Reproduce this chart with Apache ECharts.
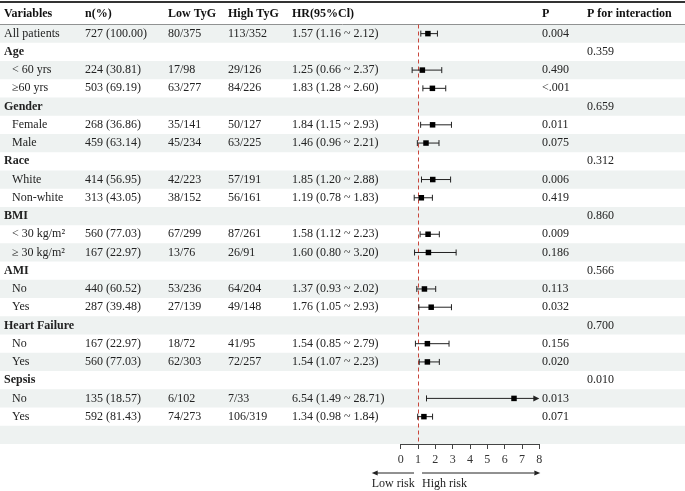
<!DOCTYPE html>
<html>
<head>
<meta charset="utf-8">
<script src="https://cdn.jsdelivr.net/npm/echarts@6/dist/echarts.min.js"></script>
<style>html,body{margin:0;padding:0;background:#fff}#c{width:685px;height:491px}</style>
</head>
<body>
<div id="c"></div>
<script>
// ---------- data ----------
var headers = ['Variables','n(%)','Low TyG','High TyG','HR(95%Cl)','P','P for interaction'];
var labels = ['All patients','Age','< 60 yrs','\u226560 yrs','Gender','Female','Male','Race','White','Non-white','BMI','< 30 kg/m\u00B2','\u2265 30 kg/m\u00B2','AMI','No','Yes','Heart Failure','No','Yes','Sepsis','No','Yes',''];
var isGroup = [0,1,0,0,1,0,0,1,0,0,1,0,0,1,0,0,1,0,0,1,0,0,0];
var nPct = ['727 (100.00)','','224 (30.81)','503 (69.19)','','268 (36.86)','459 (63.14)','','414 (56.95)','313 (43.05)','','560 (77.03)','167 (22.97)','','440 (60.52)','287 (39.48)','','167 (22.97)','560 (77.03)','','135 (18.57)','592 (81.43)',''];
var lowTyG = ['80/375','','17/98','63/277','','35/141','45/234','','42/223','38/152','','67/299','13/76','','53/236','27/139','','18/72','62/303','','6/102','74/273',''];
var highTyG = ['113/352','','29/126','84/226','','50/127','63/225','','57/191','56/161','','87/261','26/91','','64/204','49/148','','41/95','72/257','','7/33','106/319',''];
var hr = [1.57,null,1.25,1.83,null,1.84,1.46,null,1.85,1.19,null,1.58,1.60,null,1.37,1.76,null,1.54,1.54,null,6.54,1.34,null];
var lo = [1.16,null,0.66,1.28,null,1.15,0.96,null,1.20,0.78,null,1.12,0.80,null,0.93,1.05,null,0.85,1.07,null,1.49,0.98,null];
var hi = [2.12,null,2.37,2.60,null,2.93,2.21,null,2.88,1.83,null,2.23,3.20,null,2.02,2.93,null,2.79,2.23,null,28.71,1.84,null];
var pVal = ['0.004','','0.490','<.001','','0.011','0.075','','0.006','0.419','','0.009','0.186','','0.113','0.032','','0.156','0.020','','0.013','0.071',''];
var pInt = ['','0.359','','','0.659','','','0.312','','','0.860','','','0.566','','','0.700','','','0.010','','',''];
var xTicks = [0,1,2,3,4,5,6,7,8];
var refLine = 1;

// ---------- layout ----------
var W = 685;
var TOP = 24.5, BOTTOM = 444;
var FX0 = 400.7, FX1 = 539.3;
var COL = {v:4, sub:12, n:85, low:168, high:228, hr:292, p:542, pint:587};
var FONT = '"Liberation Serif","Times New Roman",serif';
var TXT = '#222';

function hrText(i){
  if (hr[i] == null) return '';
  return hr[i].toFixed(2) + ' (' + lo[i].toFixed(2) + ' ~ ' + hi[i].toFixed(2) + ')';
}
function txt(s, x, y, bold){
  return {type:'text', style:{text:s, x:x, y:y, fill:TXT, fontSize:12, fontFamily:FONT, fontWeight: bold?'bold':'normal', verticalAlign:'middle', align:'left'}};
}

var rows = labels.map(function(_, i){ return [i]; });
var forestData = [];
hr.forEach(function(v, i){ if (v != null) forestData.push([i, v, lo[i], hi[i]]); });

var chart = echarts.init(document.getElementById('c'), null, {renderer:'canvas'});

var option = {
  animation:false,
  grid:[
    {left:0, top:TOP, width:W, height:BOTTOM-TOP},
    {left:FX0, top:TOP, width:FX1-FX0, height:BOTTOM-TOP}
  ],
  xAxis:[
    {gridIndex:0, type:'value', min:0, max:W, show:false},
    {gridIndex:1, type:'value', min:0, max:8, interval:1,
      splitLine:{show:false},
      axisLine:{show:true, lineStyle:{color:'#444', width:1}},
      axisTick:{show:true, length:5, lineStyle:{color:'#444'}},
      axisLabel:{show:true, margin:10, color:'#333', fontSize:12, fontFamily:FONT}}
  ],
  yAxis:[
    {gridIndex:0, type:'category', data:labels.map(function(_,i){return String(i);}), inverse:true, show:false},
    {gridIndex:1, type:'category', data:labels.map(function(_,i){return String(i);}), inverse:true, show:false}
  ],
  series:[
    {
      type:'custom', xAxisIndex:0, yAxisIndex:0, z:1, silent:true,
      data: rows,
      renderItem:function(params, api){
        var i = api.value(0);
        if (i % 2 !== 0) return null;
        var c = api.coord([0, i]);
        var h = api.size([0, 1])[1];
        return {type:'rect', shape:{x:0, y:c[1]-h/2, width:W, height:h}, style:{fill:'#eef2f1'}};
      }
    },
    {
      type:'custom', xAxisIndex:0, yAxisIndex:0, z:3, silent:true,
      data: rows,
      renderItem:function(params, api){
        var i = api.value(0);
        var y = api.coord([0, i])[1];
        var g = isGroup[i] === 1;
        var lx = (g || i === 0) ? COL.v : COL.sub;
        var ch = [
          txt(labels[i], lx, y, g),
          txt(nPct[i], COL.n, y),
          txt(lowTyG[i], COL.low, y),
          txt(highTyG[i], COL.high, y),
          txt(hrText(i), COL.hr, y),
          txt(pVal[i], COL.p, y),
          txt(pInt[i], COL.pint, y)
        ];
        return {type:'group', children:ch};
      }
    },
    {
      type:'custom', xAxisIndex:1, yAxisIndex:1, z:5, silent:true, clip:false,
      encode:{x:[1,2,3], y:0},
      data: forestData,
      renderItem:function(params, api){
        var i = api.value(0);
        var v = api.value(1), l = api.value(2), u = api.value(3);
        var y = api.coord([0, i])[1];
        var xl = api.coord([l, i])[0];
        var over = u > 8;
        var xu = api.coord([over ? 8 : u, i])[0];
        var xp = api.coord([v, i])[0];
        var st = {stroke:'#222', lineWidth:1};
        var ch = [
          {type:'line', shape:{x1:xl, y1:y, x2:over ? xu-4 : xu, y2:y}, style:st},
          {type:'line', shape:{x1:xl, y1:y-3, x2:xl, y2:y+3}, style:st}
        ];
        if (over) {
          ch.push({type:'polygon', shape:{points:[[xu,y],[xu-6,y-3],[xu-6,y+3]]}, style:{fill:'#222'}});
        } else {
          ch.push({type:'line', shape:{x1:xu, y1:y-3, x2:xu, y2:y+3}, style:st});
        }
        ch.push({type:'rect', shape:{x:xp-2.75, y:y-2.75, width:5.5, height:5.5}, style:{fill:'#000'}});
        return {type:'group', children:ch};
      },
      markLine:{
        silent:true, symbol:['none','none'], label:{show:false},
        lineStyle:{color:'#c8463c', type:[4,3], width:1},
        data:[{xAxis:refLine}]
      }
    }
  ]
};
chart.setOption(option);

var x0 = chart.convertToPixel({xAxisIndex:1}, 0);
var x1 = chart.convertToPixel({xAxisIndex:1}, refLine);
var x8 = chart.convertToPixel({xAxisIndex:1}, 8);
var AY = 473;
var gr = [
  {type:'line', shape:{x1:0, y1:2, x2:W, y2:2}, style:{stroke:'#333', lineWidth:2}},
  {type:'line', shape:{x1:0, y1:TOP, x2:W, y2:TOP}, style:{stroke:'#333', lineWidth:1}},
  {type:'line', shape:{x1:x1-4, y1:AY, x2:x0-24, y2:AY}, style:{stroke:'#222', lineWidth:1}},
  {type:'polygon', shape:{points:[[x0-29,AY],[x0-23,AY-2.5],[x0-23,AY+2.5]]}, style:{fill:'#222'}},
  {type:'line', shape:{x1:x1+4, y1:AY, x2:x8-5, y2:AY}, style:{stroke:'#222', lineWidth:1}},
  {type:'polygon', shape:{points:[[x8+1,AY],[x8-5,AY-2.5],[x8-5,AY+2.5]]}, style:{fill:'#222'}},
  {type:'text', style:{text:'Low risk', x:x0-29, y:484, fill:TXT, fontSize:12, fontFamily:FONT, verticalAlign:'middle'}},
  {type:'text', style:{text:'High risk', x:x1+4, y:484, fill:TXT, fontSize:12, fontFamily:FONT, verticalAlign:'middle'}}
];
var hx = [COL.v, COL.n, COL.low, COL.high, COL.hr, COL.p, COL.pint];
headers.forEach(function(h, k){
  gr.push({type:'text', style:{text:h, x:hx[k], y:13.5, fill:'#111', fontSize:12, fontFamily:FONT, fontWeight:'bold', verticalAlign:'middle'}});
});
chart.setOption({graphic:{elements:gr}});
</script>
</body>
</html>
